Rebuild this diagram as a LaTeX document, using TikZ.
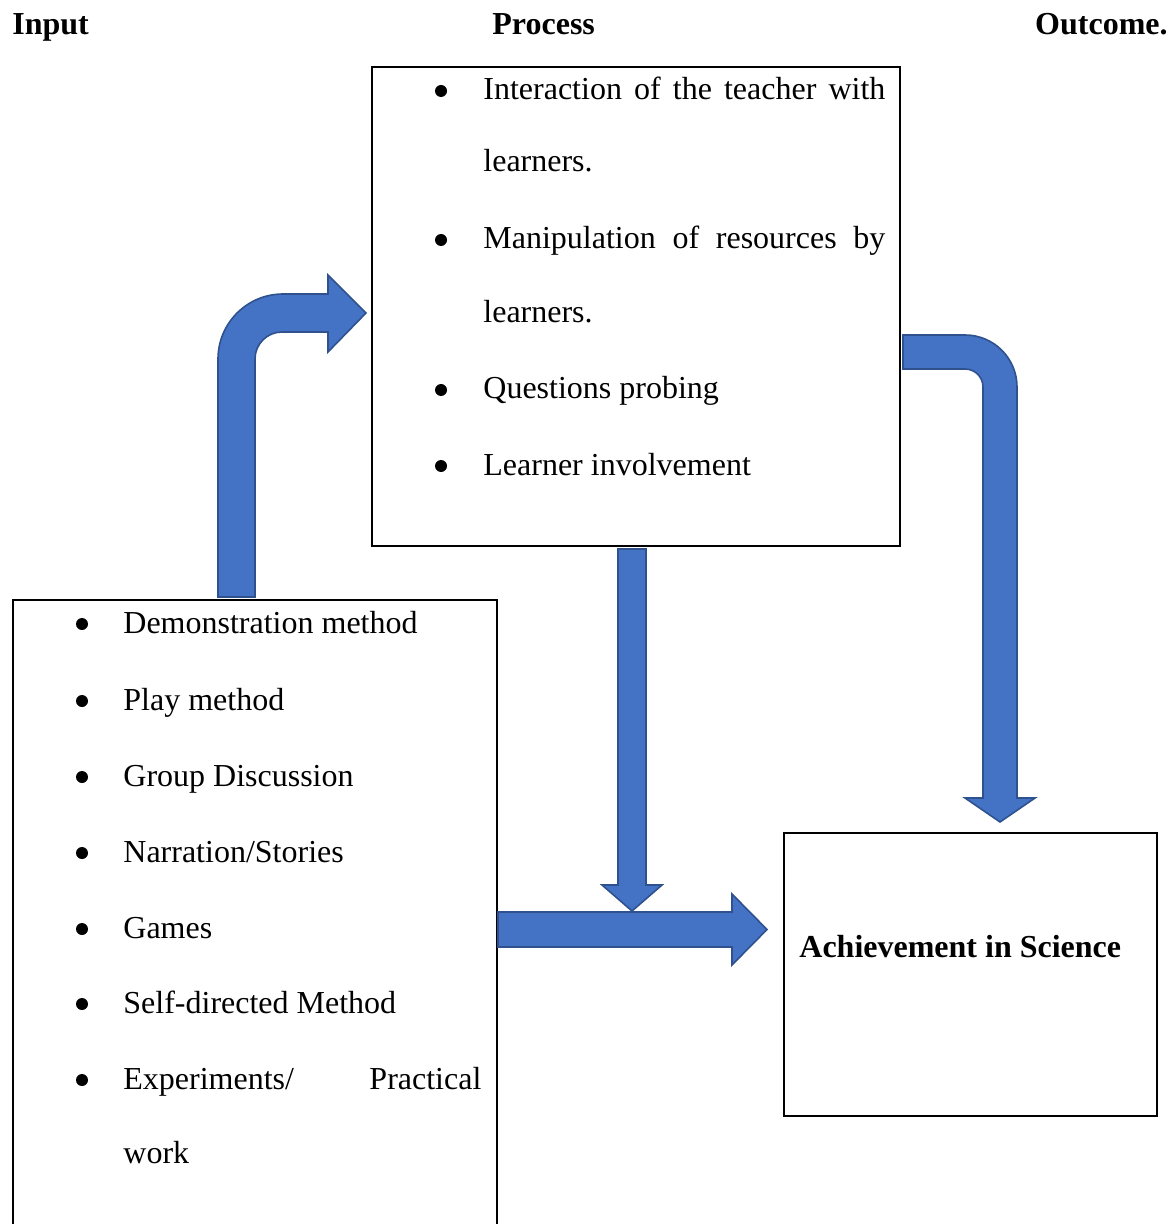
\documentclass[tikz,border=0pt]{standalone}
\usepackage{fontspec}
\setmainfont{Liberation Serif}
\usepackage{xcolor}
\definecolor{arrowblue}{HTML}{4472C4}
\definecolor{arrowedge}{HTML}{2F528F}

\begin{document}
\begin{tikzpicture}[
  x=0.5pt, y=-0.5pt,
  font=\fontsize{16}{19}\selectfont,
  box/.style={draw, line width=1pt, inner sep=0pt},
  item/.style={anchor=base west, inner sep=0pt},
  head/.style={anchor=base west, inner sep=0pt, font=\fontsize{16}{19}\selectfont\bfseries},
  blockarrow/.style={fill=arrowblue, draw=arrowedge, line width=0.8pt, line join=miter}
]
\useasboundingbox (0,0) rectangle (1173,1224);

% column titles
\node[head] (intitle) at (12,35) {Input};
\node[head] (protitle) at (492,35) {Process};
\node[head, anchor=base east] (outtitle) at (1168,35) {Outcome.};

% boxes
\node[box, minimum width=264pt, minimum height=239.5pt] (process) at (636,306.5) {};
\node[box, minimum width=242pt, minimum height=322pt] (input) at (255,922) {};
\node[box, minimum width=186.5pt, minimum height=141.5pt] (outcome) at (970.5,974.5) {};

% process items
\node[item] (p1) at (483,100) {\makebox[201pt][s]{Interaction of the teacher with}};
\node[item] (p2) at (483,172) {learners.};
\node[item] (p3) at (483,249) {\makebox[201pt][s]{Manipulation of resources by}};
\node[item] (p4) at (483,323) {learners.};
\node[item] (p5) at (483,399) {Questions probing};
\node[item] (p6) at (483,475) {Learner involvement};
\foreach \y in {100,249,399,475}
  \fill (441,\y-9) circle[radius=3pt];

% input items
\node[item] (i1) at (123,633) {Demonstration method};
\node[item] (i2) at (123,710) {Play method};
\node[item] (i3) at (123,786) {Group Discussion};
\node[item] (i4) at (123,862) {Narration/Stories};
\node[item] (i5) at (123,938) {Games};
\node[item] (i6) at (123,1013) {Self-directed Method};
\node[item] (i7) at (123,1089) {\makebox[179pt][s]{Experiments/ Practical}};
\node[item] (i8) at (123,1163) {work};
\foreach \y in {633,710,786,862,938,1013,1089}
  \fill (82,\y-9) circle[radius=3pt];

% outcome
\node[head] (achieve) at (799,957) {Achievement in Science};

% block arrows
\draw[blockarrow] (218,597) -- (218,359) arc[start angle=180, end angle=90, radius=32.5pt]
  -- (328,294) -- (328,275) -- (366,313) -- (328,352) -- (328,332) -- (282,332)
  arc[start angle=90, end angle=180, radius=13.5pt] -- (255,597) -- cycle;

\draw[blockarrow] (903,335) -- (965,335) arc[start angle=90, end angle=0, radius=26pt]
  -- (1017,798) -- (1035,798) -- (1000,822) -- (965,798) -- (983,798) -- (983,387)
  arc[start angle=0, end angle=90, radius=9pt] -- (903,369) -- cycle;

\draw[blockarrow] (618,549) -- (646,549) -- (646,885) -- (662,885) -- (632,911)
  -- (602,885) -- (618,885) -- cycle;

\draw[blockarrow] (498,912) -- (732,912) -- (732,894) -- (767,929.5) -- (732,965)
  -- (732,947) -- (498,947) -- cycle;

\end{tikzpicture}
\end{document}
